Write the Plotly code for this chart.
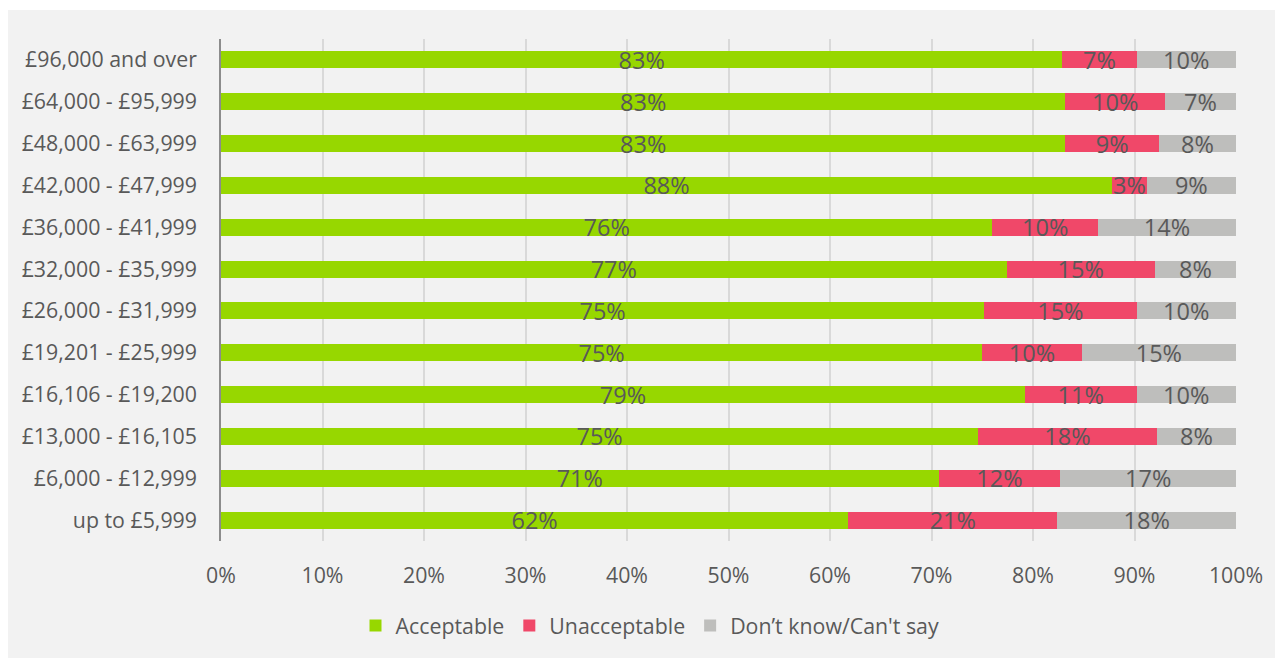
import plotly.graph_objects as go

categories = ["£96,000 and over", "£64,000 - £95,999", "£48,000 - £63,999", "£42,000 - £47,999",
              "£36,000 - £41,999", "£32,000 - £35,999", "£26,000 - £31,999", "£19,201 - £25,999",
              "£16,106 - £19,200", "£13,000 - £16,105", "£6,000 - £12,999", "up to £5,999"]
acceptable = [82.9, 83.2, 83.2, 87.8, 76.0, 77.4, 75.2, 75.0, 79.2, 74.6, 70.7, 61.8]
unacceptable = [7.3, 9.8, 9.2, 3.4, 10.4, 14.6, 15.0, 9.8, 11.0, 17.6, 12.0, 20.6]
dont_know = [9.8, 7.0, 7.6, 8.8, 13.6, 8.0, 9.8, 15.2, 9.8, 7.8, 17.3, 17.6]
series_names = ["Acceptable", "Unacceptable", "Don’t know/Can't say"]
colors = ["#97D700", "#F04869", "#BEBEBC"]
x_ticks = [0, 10, 20, 30, 40, 50, 60, 70, 80, 90, 100]
x_tick_labels = [f"{t}%" for t in x_ticks]

FONT = "Open Sans"
TXT = "#595959"
FS = 21.33
FS_BAR = 23.5

fig = go.Figure()
for name, vals, col in zip(series_names, [acceptable, unacceptable, dont_know], colors):
    fig.add_trace(go.Bar(
        y=categories, x=vals, name=name, orientation="h",
        marker=dict(color=col, line=dict(width=0)),
        texttemplate="%{x:.0f}%", textposition="inside", insidetextanchor="middle",
        constraintext="none", cliponaxis=False,
        textfont=dict(family=FONT, size=FS_BAR, color=TXT),
        hoverinfo="skip",
    ))

# page is offset by the 8px body margin
OFF = 8
W, H = 1283 - OFF, 658 - OFF
L = 221 - OFF
T = 39 - OFF
R = W - (1236 - OFF)
B = H - (543 - OFF)
pw, ph = W - L - R, H - T - B


def px(xp):  # page x -> paper
    return (xp - OFF - L) / pw


def py(yp):  # page y -> paper
    return (H - B - (yp - OFF)) / ph


fig.update_layout(
    width=W, height=H,
    margin=dict(l=L, r=R, t=T, b=B, pad=0),
    barmode="stack", bargap=0.595,
    paper_bgcolor="white", plot_bgcolor="rgba(0,0,0,0)",
    font=dict(family=FONT, size=FS, color=TXT),
    showlegend=True,
    legend=dict(orientation="h", x=px(650), xanchor="center",
                y=py(628), yanchor="middle",
                font=dict(family=FONT, size=FS, color=TXT),
                bgcolor="rgba(0,0,0,0)", traceorder="normal"),
    xaxis=dict(range=[0, 100], tickvals=x_ticks, ticktext=x_tick_labels,
               showgrid=True, gridcolor="#D9D9D9", gridwidth=1.5,
               zeroline=False, showline=False, ticks="", ticklabelstandoff=20,
               fixedrange=True),
    yaxis=dict(categoryorder="array", categoryarray=categories, autorange="reversed",
               showgrid=False, zeroline=False, showline=True, linecolor="#8C8C8C",
               linewidth=1.5, ticks="", ticklabelstandoff=18, fixedrange=True),
    shapes=[dict(type="rect", xref="paper", yref="paper", layer="below",
                 x0=px(7), x1=px(1300), y0=py(700), y1=py(10),
                 fillcolor="#F2F2F2", line=dict(width=0))],
)

fig.write_html("out.html")
